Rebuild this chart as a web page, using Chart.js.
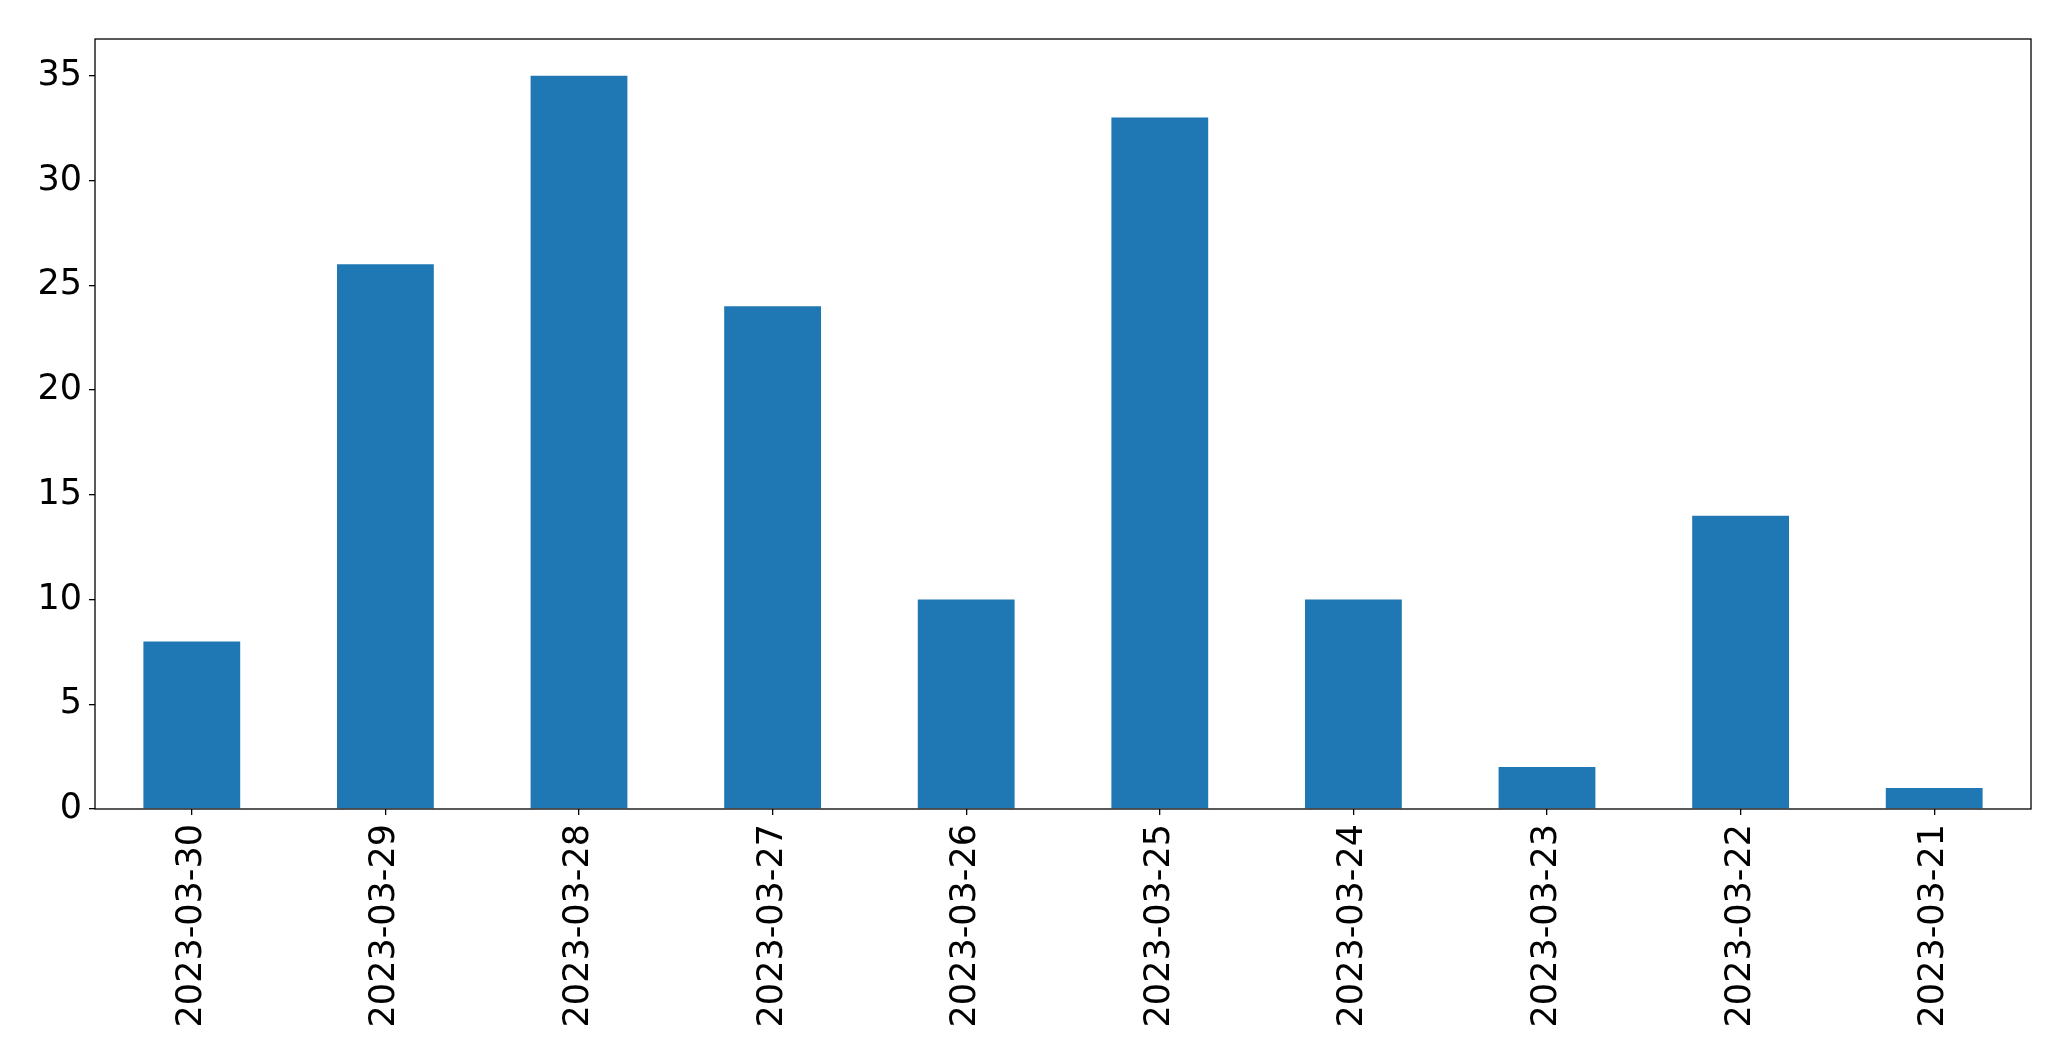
<!DOCTYPE html>
<html>
<head>
<meta charset="UTF-8">
<title>Counts per day</title>
<script src="https://cdn.jsdelivr.net/npm/chart.js"></script>
<style>
  html, body { margin: 0; padding: 0; background: #fff; }
  #wrap { width: 2071px; height: 1061px; }
</style>
</head>
<body>
<div id="wrap"><canvas id="c" width="2071" height="1061"></canvas></div>
<script>
const dates = ['2023-03-30', '2023-03-29', '2023-03-28', '2023-03-27', '2023-03-26',
               '2023-03-25', '2023-03-24', '2023-03-23', '2023-03-22', '2023-03-21'];
const counts = [8, 26, 35, 24, 10, 33, 10, 2, 14, 1];
const yTicks = [0, 5, 10, 15, 20, 25, 30, 35];

// draws the full box round the plot, like matplotlib spines
const frame = {
  id: 'frame',
  afterDraw(chart) {
    const a = chart.chartArea, ctx = chart.ctx;
    ctx.save();
    ctx.strokeStyle = '#000';
    ctx.lineWidth = 1.3;
    ctx.strokeRect(a.left, a.top, a.right - a.left, a.bottom - a.top);
    ctx.restore();
  }
};

Chart.defaults.font.family = 'DejaVu Sans';
Chart.defaults.color = '#000';

new Chart(document.getElementById('c'), {
  type: 'bar',
  data: {
    labels: dates,
    datasets: [{
      data: counts,
      backgroundColor: '#1f77b4',
      borderWidth: 0,
      barPercentage: 0.5,
      categoryPercentage: 1.0
    }]
  },
  options: {
    responsive: false,
    animation: false,
    layout: { padding: { top: 39, right: 40, left: 0, bottom: 0 } },
    plugins: { legend: { display: false }, tooltip: { enabled: false } },
    scales: {
      x: {
        grid: { display: true, offset: false, drawOnChartArea: false, tickLength: 6, tickColor: '#000', lineWidth: 1.3 },
        border: { display: false },
        ticks: { font: { size: 35 }, maxRotation: 90, minRotation: 90, padding: 9, autoSkip: false },
        afterFit(s) { s.height = 252; }
      },
      y: {
        min: 0,
        max: 36.75,
        grid: { display: true, drawOnChartArea: false, tickLength: 6, tickColor: '#000', lineWidth: 1.3 },
        border: { display: false },
        afterBuildTicks(s) { s.ticks = yTicks.map(v => ({ value: v })); },
        ticks: { font: { size: 35 }, padding: 7 },
        afterFit(s) { s.width = 95; }
      }
    }
  },
  plugins: [frame]
});
</script>
</body>
</html>
